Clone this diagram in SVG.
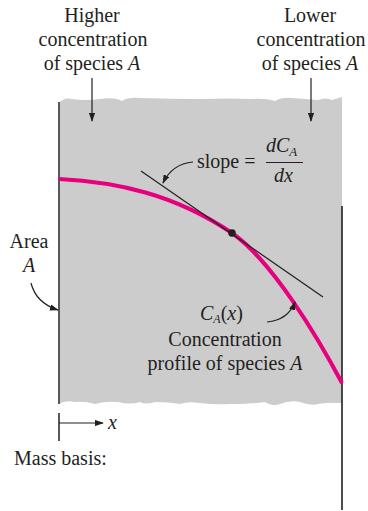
<svg xmlns="http://www.w3.org/2000/svg" width="368" height="511" viewBox="0 0 368 511">
<defs>
<style>
text{font-family:"Liberation Serif","Times New Roman",serif;font-size:20px;fill:#231f20}
.it{font-style:italic}
.mid{text-anchor:middle}
.ln{fill:none;stroke:#231f20;stroke-width:1.2}
</style>
<marker id="ah" viewBox="0 0 10 7" refX="9" refY="3.5" markerWidth="9" markerHeight="6.3" markerUnits="userSpaceOnUse" orient="auto">
<path d="M0,0 L10,3.5 L0,7 z" fill="#231f20"/>
</marker>
</defs>
<rect width="368" height="511" fill="#fff"/>
<g id="medium">
<path d="M59,103 Q64,97 72,99 Q85,101 100,99 Q115,97 122,101 Q128,97 140,98 Q170,99 200,99 Q230,98 250,99 Q265,98 275,101 Q282,97 292,98 Q305,99 318,100 Q326,97 332,100 Q338,98 342,97 L342,403 Q330,402 318,404 Q312,406 300,402 Q290,400 280,404 Q272,407 265,402 Q250,404 230,404 Q215,405 200,403 Q188,401 180,404 Q170,402 155,402 Q145,405 140,402 Q130,405 118,402 Q105,401 95,404 Q85,401 75,402 Q65,400 59,404 Z" fill="#cccccc"/>
<line x1="59" y1="102" x2="59" y2="404" stroke="#58585a" stroke-width="2"/>
<line x1="342" y1="206" x2="342" y2="510" stroke="#231f20" stroke-width="1.6"/>
</g>
<g id="higher-label">
<text class="mid" x="92" y="22">Higher</text>
<text class="mid" x="93" y="46">concentration</text>
<text class="mid" x="92" y="70">of species <tspan class="it">A</tspan></text>
</g>
<g id="lower-label">
<text class="mid" x="310" y="22">Lower</text>
<text class="mid" x="311" y="46">concentration</text>
<text class="mid" x="310" y="70">of species <tspan class="it">A</tspan></text>
</g>
<g id="profile">
<path d="M59,179 C117,182 174,194 232,233 C272,261 317,336 342,383" fill="none" stroke="#e6007e" stroke-width="4"/>
</g>
<g id="tangent">
<line class="ln" x1="141" y1="171" x2="323" y2="297"/>
<circle cx="232" cy="233" r="3.8" fill="#231f20"/>
</g>
<g id="slope-label">
<text x="197" y="168">slope =</text>
<text x="266" y="152" class="it">dC<tspan font-size="13" dy="4">A</tspan></text>
<line x1="266" y1="162.5" x2="303" y2="162.5" stroke="#231f20" stroke-width="1"/>
<text x="274" y="182" class="it">dx</text>
</g>
<g id="area-label">
<text class="mid" x="29" y="248">Area</text>
<text class="mid it" x="29" y="272">A</text>
</g>
<g id="profile-label">
<text x="200" y="320"><tspan class="it">C</tspan><tspan class="it" font-size="12" dy="3">A</tspan><tspan dy="-3">(</tspan><tspan class="it">x</tspan>)</text>
<text class="mid" x="225" y="346">Concentration</text>
<text class="mid" x="225" y="370">profile of species <tspan class="it">A</tspan></text>
</g>
<g id="x-axis">
<line x1="59" y1="413" x2="59" y2="441" stroke="#58585a" stroke-width="2"/>
<text class="it" x="108" y="429">x</text>
</g>
<g id="mass-basis">
<text x="14" y="465">Mass basis:</text>
</g>
<g id="connectors">
<line class="ln" x1="92" y1="78" x2="92" y2="121" marker-end="url(#ah)"/>
<line class="ln" x1="311" y1="78" x2="311" y2="121" marker-end="url(#ah)"/>
<path class="ln" d="M193,162 Q172,164 163,183" marker-end="url(#ah)"/>
<path class="ln" d="M31,283 Q36,303 58,310" marker-end="url(#ah)"/>
<path class="ln" d="M267,322 Q288,320 295,302" marker-end="url(#ah)"/>
<line class="ln" x1="59" y1="423" x2="103" y2="423" marker-end="url(#ah)"/>
</g>
</svg>
